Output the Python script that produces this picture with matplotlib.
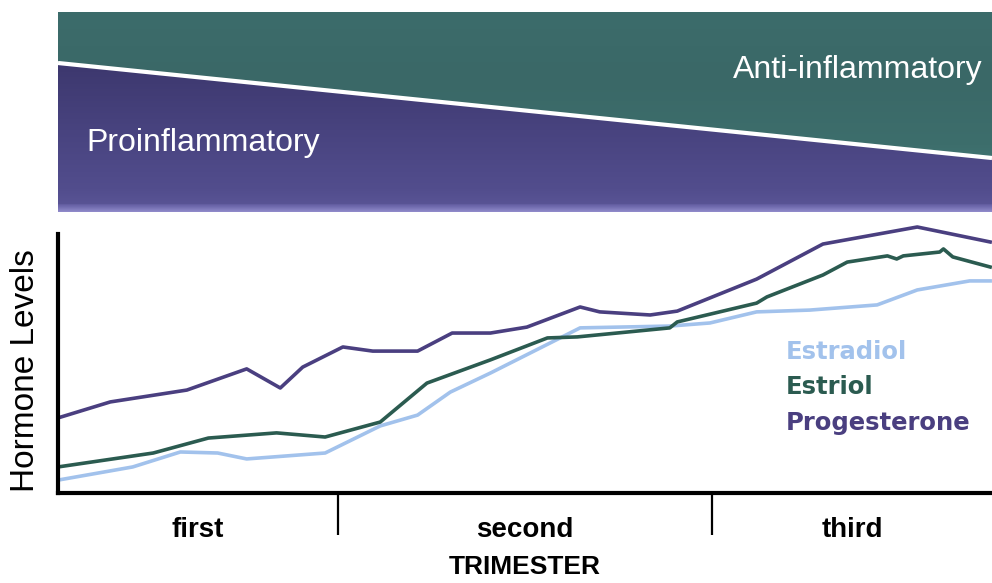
import numpy as np
import matplotlib
matplotlib.use("Agg")
import matplotlib.pyplot as plt
from matplotlib.patches import Polygon
from matplotlib.colors import LinearSegmentedColormap

# gestation axis in arbitrary units (0 = start, 100 = term), hormone levels in arbitrary units
prog_x = [0, 5.6, 13.8, 20.2, 23.8, 26.2, 30.5, 33.7, 38.5, 42.2, 46.3, 50.2, 55.9, 58.0,
          63.4, 66.3, 74.8, 81.9, 92.0, 99.8]
prog_y = [29.1, 35.3, 39.9, 48.1, 40.7, 48.8, 56.6, 55.0, 55.0, 62.0, 62.0, 64.3, 72.1, 70.2,
          69.0, 70.5, 82.9, 96.5, 103.1, 97.3]

estriol_x = [0, 10.2, 16.1, 23.4, 28.6, 34.5, 39.5, 46.3, 52.4, 55.6, 65.5, 66.3, 74.8, 75.9,
             81.9, 84.5, 88.8, 89.8, 90.5, 94.4, 94.8, 95.8, 99.8]
estriol_y = [10.1, 15.5, 21.3, 23.3, 21.7, 27.5, 42.6, 51.6, 60.1, 60.5, 64.0, 66.3, 73.6, 76.0,
             84.5, 89.5, 91.9, 90.7, 91.9, 93.4, 94.6, 91.5, 87.6]

estradiol_x = [0, 8.0, 13.1, 17.1, 20.2, 28.6, 34.5, 38.5, 42.0, 46.3, 55.9, 65.5, 69.8, 74.8,
               80.5, 87.7, 92.0, 97.6, 99.8]
estradiol_y = [5.0, 10.1, 15.9, 15.5, 13.2, 15.5, 26.0, 30.2, 39.1, 46.5, 64.0, 64.7, 65.9, 70.2,
               70.9, 72.9, 78.7, 82.2, 82.2]

trimester_bounds = [30, 70]
trimester_centers = [15, 50, 85]
trimester_labels = ["first", "second", "third"]

# share of the banner height taken by the proinflammatory band at start / end
pro_share = [0.745, 0.27]

c_prog = "#4a3f80"
c_estriol = "#2b5b50"
c_estradiol = "#a2c2ec"

fig = plt.figure(figsize=(9.92, 5.83), dpi=100)

# ---- banner ----
bax = fig.add_axes([58 / 992, 1 - 212 / 583, 934 / 992, 200 / 583])
bax.set_xlim(0, 1)
bax.set_ylim(0, 1)
bax.axis("off")

teal_poly = Polygon([(0, pro_share[0]), (1, pro_share[1]), (1, 1), (0, 1)], closed=True,
                    transform=bax.transData, facecolor="none", edgecolor="none")
purple_poly = Polygon([(0, 0), (1, 0), (1, pro_share[1]), (0, pro_share[0])], closed=True,
                      transform=bax.transData, facecolor="none", edgecolor="none")
bax.add_patch(teal_poly)
bax.add_patch(purple_poly)

teal_cmap = LinearSegmentedColormap.from_list("teal", ["#4a8582", "#3d6e6c", "#3a6867", "#3c6c6b"])
purple_cmap = LinearSegmentedColormap.from_list(
    "purple", ["#908bca", "#6c66aa", "#524d8d", "#48437f", "#3e3970", "#383366"])
grad = np.linspace(0, 1, 256).reshape(-1, 1)
im1 = bax.imshow(grad, extent=[0, 1, 0, 1], origin="lower", cmap=teal_cmap, aspect="auto")
im1.set_clip_path(teal_poly)

pg = np.concatenate([np.linspace(0, 0.25, 10), np.linspace(0.35, 1, 246)]).reshape(-1, 1)
im2 = bax.imshow(pg, extent=[0, 1, 0, 1], origin="lower", cmap=purple_cmap, aspect="auto")
im2.set_clip_path(purple_poly)

bax.plot([0, 1], pro_share, color="white", lw=3, solid_capstyle="butt")
bax.text(0.03, 0.345, "Proinflammatory", color="white", fontsize=23, family="Liberation Sans",
         ha="left", va="center")
bax.text(0.99, 0.71, "Anti-inflammatory", color="white", fontsize=23, family="Liberation Sans",
         ha="right", va="center")

# ---- hormone chart ----
ax = fig.add_axes([58 / 992, 90 / 583, 934 / 992, 278 / 583])
ax.plot(estradiol_x, estradiol_y, color=c_estradiol, lw=2.6)
ax.plot(estriol_x, estriol_y, color=c_estriol, lw=2.6)
ax.plot(prog_x, prog_y, color=c_prog, lw=2.6)
ax.set_xlim(0, 100)
ax.set_ylim(0, 107.75)

for s in ["top", "right"]:
    ax.spines[s].set_visible(False)
ax.spines["left"].set_linewidth(3)
ax.spines["bottom"].set_linewidth(3)
ax.spines["left"].set_bounds(0, 100.5)
ax.set_yticks([])

ax.set_xticks(trimester_bounds)
ax.set_xticklabels([])
ax.tick_params(axis="x", which="major", direction="out", length=30, width=1.6, color="black")
ax.set_xticks(trimester_centers, minor=True)
ax.set_xticklabels(trimester_labels, minor=True, fontsize=20, fontweight="bold",
                   family="Liberation Sans")
ax.tick_params(axis="x", which="minor", length=0, pad=17)

ax.set_xlabel("TRIMESTER", fontsize=19, fontweight="bold", family="Liberation Sans", labelpad=9)
ax.set_ylabel("Hormone Levels", fontsize=24, family="Liberation Sans")
ax.yaxis.set_label_coords(-0.018, 0.44)

legend_y = [54.7, 41.1, 27.1]
for lab, col, yy in zip(["Estradiol", "Estriol", "Progesterone"],
                        [c_estradiol, c_estriol, c_prog], legend_y):
    ax.text(77.9, yy, lab, color=col, fontsize=17.5, fontweight="bold", family="DejaVu Sans",
            ha="left", va="center")

fig.savefig("out.png", dpi=100)
